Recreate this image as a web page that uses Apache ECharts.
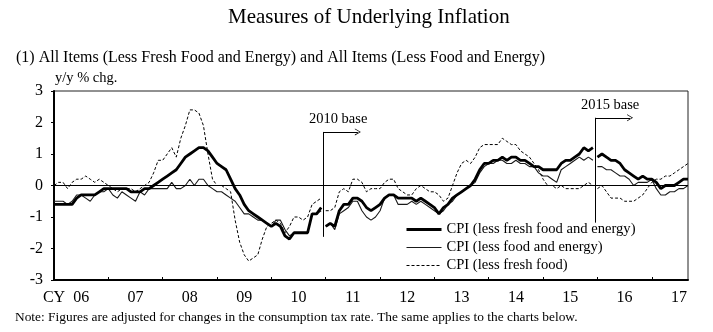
<!DOCTYPE html>
<html><head><meta charset="utf-8">
<script src="https://cdn.jsdelivr.net/npm/echarts@6/dist/echarts.min.js"></script>
<style>html,body{margin:0;padding:0;background:#fff}#c{width:713px;height:332px}</style>
</head><body><div id="c"></div>
<script>
// Monthly data, Jan 2006 .. Sep 2017 (141 months), y/y % chg.
const yearLabels = ['CY 06','07','08','09','10','11','12','13','14','15','16','17'];
const seriesNames = ['CPI (less fresh food and energy)', 'CPI (less food and energy)', 'CPI (less fresh food)'];
const lessFreshFoodEnergy = [
  -0.6,-0.6,-0.6,-0.6,-0.6,-0.4,-0.3,-0.3,-0.3,-0.3,-0.2,-0.1,
  -0.1,-0.1,-0.1,-0.1,-0.1,-0.2,-0.2,-0.2,-0.1,-0.1,0.0,0.1,
  0.2,0.3,0.4,0.5,0.7,0.9,1.0,1.1,1.2,1.2,1.1,0.9,
  0.7,0.6,0.5,0.2,-0.1,-0.3,-0.6,-0.8,-0.9,-1.0,-1.1,-1.2,
  -1.3,-1.2,-1.3,-1.6,-1.7,-1.5,-1.5,-1.5,-1.5,-0.9,-0.9,-0.7,
  -1.3,-1.2,-1.3,-0.8,-0.6,-0.6,-0.4,-0.4,-0.5,-0.7,-0.8,-0.7,
  -0.6,-0.4,-0.3,-0.3,-0.4,-0.4,-0.4,-0.4,-0.5,-0.4,-0.5,-0.6,
  -0.7,-0.9,-0.7,-0.6,-0.4,-0.3,-0.2,-0.1,0.0,0.2,0.5,0.7,
  0.7,0.8,0.8,0.9,0.8,0.9,0.9,0.8,0.8,0.7,0.6,0.6,
  0.5,0.5,0.5,0.5,0.7,0.8,0.8,0.9,1.0,1.2,1.1,1.2,
  0.9,1.0,0.9,0.8,0.8,0.7,0.5,0.4,0.3,0.2,0.3,0.2,
  0.2,0.1,-0.1,0.0,0.0,0.0,0.1,0.2,0.2
];
const lessFoodEnergy = [
  -0.5,-0.5,-0.5,-0.6,-0.5,-0.3,-0.3,-0.4,-0.5,-0.3,-0.2,-0.2,
  -0.1,-0.3,-0.4,-0.2,-0.3,-0.4,-0.5,-0.2,-0.3,-0.1,-0.1,-0.1,
  -0.1,-0.1,0.1,-0.1,-0.1,0.0,0.2,0.0,0.2,0.2,0.0,-0.1,
  -0.2,-0.2,-0.3,-0.4,-0.5,-0.7,-0.9,-0.9,-1.0,-1.1,-1.1,-1.2,
  -1.3,-1.1,-1.1,-1.4,-1.6,-1.5,-1.5,-1.5,-1.5,-0.9,-0.9,-0.8,
  -1.3,-1.2,-1.4,-0.9,-0.8,-0.7,-0.5,-0.5,-0.8,-1.0,-1.1,-1.0,
  -0.8,-0.4,-0.3,-0.3,-0.6,-0.6,-0.6,-0.5,-0.6,-0.5,-0.6,-0.7,
  -0.8,-0.9,-0.8,-0.6,-0.5,-0.3,-0.2,-0.1,0.0,0.1,0.4,0.6,
  0.7,0.7,0.8,0.8,0.7,0.7,0.8,0.7,0.7,0.6,0.6,0.4,
  0.3,0.3,0.2,0.1,0.5,0.6,0.7,0.8,0.9,0.8,0.9,0.8,
  0.6,0.6,0.5,0.5,0.4,0.3,0.3,0.2,0.0,0.1,0.1,0.1,
  0.2,-0.1,-0.3,-0.3,-0.2,-0.2,-0.1,-0.1,0.0
];
const lessFreshFood = [
  0.0,0.1,0.1,-0.1,0.1,0.2,0.2,0.3,0.2,0.1,0.2,0.1,
  0.0,-0.1,-0.2,-0.1,-0.1,-0.1,-0.2,-0.1,0.0,0.1,0.4,0.8,
  0.8,1.0,1.2,0.9,1.5,1.9,2.4,2.4,2.3,1.9,1.0,0.2,
  0.0,0.0,-0.1,-0.2,-1.1,-1.8,-2.2,-2.4,-2.3,-2.2,-1.7,-1.3,
  -1.2,-1.1,-1.2,-1.5,-1.3,-1.0,-1.0,-1.1,-1.0,-0.6,-0.5,-0.4,
  -0.8,-0.8,-0.7,-0.2,-0.1,-0.2,0.2,0.2,0.1,-0.2,-0.1,-0.1,
  -0.1,0.1,0.2,0.2,-0.1,-0.2,-0.3,-0.3,-0.1,0.0,-0.1,-0.2,
  -0.2,-0.3,-0.5,-0.4,0.0,0.4,0.7,0.8,0.7,0.9,1.2,1.3,
  1.3,1.3,1.3,1.5,1.4,1.3,1.3,1.1,1.0,0.9,0.7,0.5,
  0.2,0.0,0.0,-0.1,0.0,-0.1,-0.1,-0.1,-0.1,0.0,0.1,0.0,
  -0.1,0.0,-0.2,-0.4,-0.4,-0.4,-0.5,-0.5,-0.5,-0.4,-0.3,-0.1,
  0.1,0.2,0.2,0.3,0.3,0.4,0.5,0.6,0.7
];
// index of first month of each base period (2005, 2010, 2015 base)
const segmentStarts = [0, 60, 120];
const baseLabels = ['2010 base', '2015 base'];

const FONT = '"Liberation Serif","Times New Roman",serif';
const chart = echarts.init(document.getElementById('c'), null, {renderer: 'canvas'});
const nMonths = lessFreshFoodEnergy.length;

function segments(arr) {
  const out = [];
  segmentStarts.forEach((s, k) => {
    const e = k + 1 < segmentStarts.length ? segmentStarts[k + 1] : arr.length;
    out.push(arr.slice(s, e).map((v, j) => [s + j, v]));
  });
  return out;
}

const styles = [
  {width: 2.8, type: 'solid', color: '#000'},
  {width: 1.1, type: 'solid', color: '#1a1a1a'},
  {width: 1, type: [3, 2], color: '#000'}
];
const allData = [lessFreshFoodEnergy, lessFoodEnergy, lessFreshFood];
const drawOrder = [2, 1, 0];

// annotation geometry (position of base-change arrows)
const annot = [
  {x: 59.5, y0: -1.63, y1: 1.70, xEnd: 67.1},
  {x: 119.5, y0: -1.18, y1: 2.15, xEnd: 127.2}
];
const CHEVRON = 'path://M5,0 L10,10 L8.8,10 L5,2.2 L1.2,10 L0,10 Z';

const markLineData = [{yAxis: 0, lineStyle: {color: '#000', width: 1, type: 'solid'}, symbol: 'none'}];
annot.forEach((a, i) => {
  markLineData.push([
    {coord: [a.x, a.y0], symbol: 'none', lineStyle: {color: '#000', width: 1, type: 'solid'}},
    {coord: [a.x, a.y1], symbol: 'none'}
  ]);
  markLineData.push([
    {coord: [a.x, a.y1], symbol: 'none', lineStyle: {color: '#000', width: 1, type: 'solid'},
     label: {show: true, position: 'insideMiddleTop', distance: 5, formatter: baseLabels[i],
             color: '#000', fontSize: 14.5, fontFamily: FONT, padding: [0, 5, 0, 0]}},
    {coord: [a.xEnd, a.y1], symbol: CHEVRON, symbolSize: [7, 6]}
  ]);
});

const series = [];
drawOrder.forEach(si => {
  segments(allData[si]).forEach((seg, k) => {
    const s = {
      type: 'line', name: seriesNames[si], data: seg, symbol: 'none', showSymbol: false,
      lineStyle: Object.assign({}, styles[si]), itemStyle: {color: styles[si].color},
      silent: true, animation: false, z: 2 + (2 - si)
    };
    if (series.length === 0) {
      s.markLine = {silent: true, symbol: 'none', animation: false, label: {show: false}, data: markLineData};
    }
    series.push(s);
  });
});

const yearTicks = yearLabels.map((_, i) => i * 12);
const yearMids = yearLabels.map((_, i) => i * 12 + 6);

chart.setOption({
  animation: false,
  backgroundColor: '#fff',
  textStyle: {fontFamily: FONT},
  title: [
    {text: 'Measures of Underlying Inflation', left: 228, top: 7, padding: 0,
     textStyle: {fontSize: 21, fontWeight: 'normal', color: '#000', fontFamily: FONT}},
    {text: '(1) All Items (Less Fresh Food and Energy) and All Items (Less Food and Energy)', left: 16, top: 50, padding: 0,
     textStyle: {fontSize: 16, fontWeight: 'normal', color: '#000', fontFamily: FONT}},
    {text: 'y/y % chg.', left: 55, top: 71, padding: 0,
     textStyle: {fontSize: 14.5, fontWeight: 'normal', color: '#000', fontFamily: FONT}},
    {text: 'Note: Figures are adjusted for changes in the consumption tax rate. The same applies to the charts below.', left: 15, top: 311, padding: 0,
     textStyle: {fontSize: 13.4, fontWeight: 'normal', color: '#000', fontFamily: FONT}}
  ],
  grid: {left: 54, right: 25, top: 91, bottom: 52, show: true, borderColor: '#222', borderWidth: 1, backgroundColor: 'transparent'},
  legend: {
    orient: 'vertical', left: 405, top: 222, itemWidth: 35, itemHeight: 14, itemGap: 3, padding: 0,
    selectedMode: false,
    itemStyle: {opacity: 0},
    textStyle: {fontSize: 14.6, fontFamily: FONT, color: '#000'},
    data: [
      {name: seriesNames[0], lineStyle: {width: 3}, itemStyle: {opacity: 0}},
      {name: seriesNames[1], lineStyle: {width: 1.2}, itemStyle: {opacity: 0}},
      {name: seriesNames[2], lineStyle: {width: 1}, itemStyle: {opacity: 0}}
    ]
  },
  xAxis: {
    type: 'value', min: 0, max: nMonths - 1,
    axisLine: {show: true, onZero: false, lineStyle: {color: '#000', width: 2}},
    axisTick: {show: true, inside: true, length: 3, customValues: yearTicks, lineStyle: {color: '#000', width: 1}},
    axisLabel: {
      customValues: yearMids, margin: 10, fontSize: 16, color: '#000', fontFamily: FONT,
      formatter: v => {
        const t = yearLabels[Math.round((v - 6) / 12)] || '';
        const p = t.split(' ');
        if (p.length > 1) return '{a|' + p[0] + '  }' + p[1] + '{b|' + p[0] + '  }';
        return t;
      },
      rich: {
        a: {fontSize: 16, fontFamily: FONT, color: '#000'},
        b: {fontSize: 16, fontFamily: FONT, color: 'rgba(0,0,0,0)'}
      }
    },
    splitLine: {show: false}
  },
  yAxis: {
    type: 'value', min: -3, max: 3, interval: 1,
    axisLine: {show: true, onZero: false, lineStyle: {color: '#000', width: 2}},
    axisTick: {show: true, inside: false, length: 3, lineStyle: {color: '#000', width: 1}},
    axisLabel: {fontSize: 16, color: '#000', fontFamily: FONT, margin: 11},
    splitLine: {show: false}
  },
  series: series
});
</script>
</body></html>
